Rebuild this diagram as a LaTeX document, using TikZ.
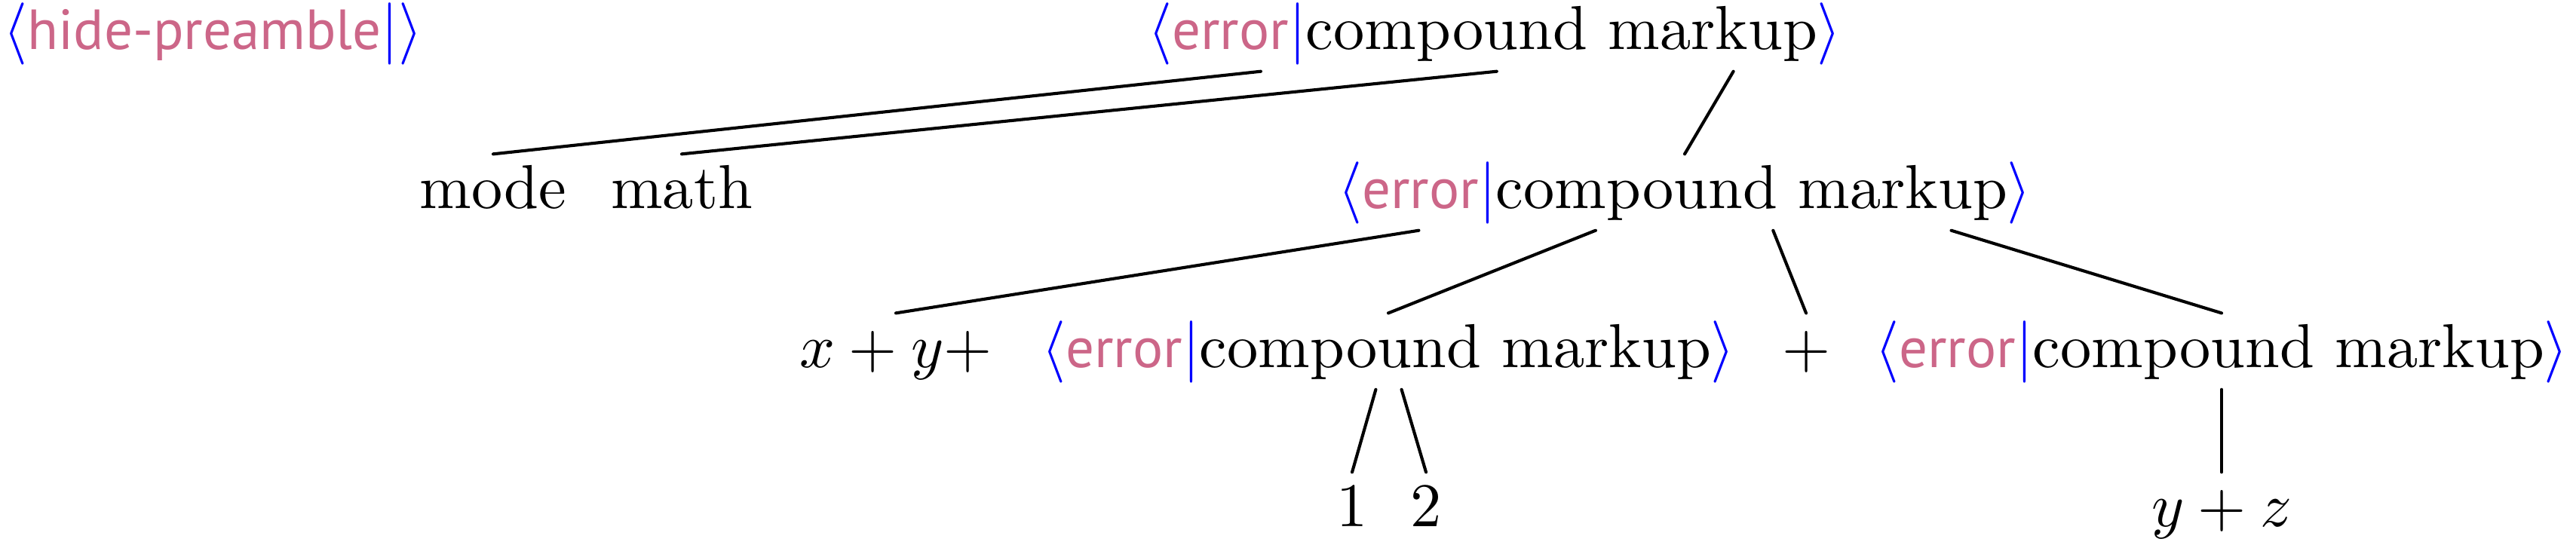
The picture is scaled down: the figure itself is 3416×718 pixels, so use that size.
\documentclass[tikz,border=0pt]{standalone}
\usepackage{fontspec}
\usetikzlibrary{calc}
\newfontfamily\tmsans{PT Sans}
\definecolor{tmpink}{RGB}{204,102,136}
\newcommand\tmdl[1]{{\color{blue}$#1$}}
\newcommand\tmtag[1]{{\color{tmpink}\tmsans\fontsize{9.1}{10}\selectfont #1}}
\newcommand\tmerr{\tmdl{\langle}\tmtag{error}\tmdl{|}compound markup\tmdl{\rangle}}
\begin{document}
\begin{tikzpicture}[x=0.12136pt,y=0.12136pt,
  tn/.style={inner sep=0pt,text height=8.5pt,text depth=3.4pt,anchor=base},
  tntop/.style={tn,text height=7.5pt},
  edge/.style={line width=0.5pt,line cap=round}]
\useasboundingbox (0,0) rectangle (3416,-718);
\node[tntop,anchor=base west] (hp) at (3,-65) {\tmdl{\langle}\tmtag{hide-preamble}\tmdl{|}\tmdl{\rangle}};
\node[tntop] (e1) at (1982,-65) {\tmerr};
\node[tn] (mode) at (654,-276) {mode};
\node[tn] (math) at (904,-276) {math};
\node[tn] (e2) at (2234,-276) {\tmerr};
\node[tn] (xy) at (1188,-487) {$x+y+$};
\node[tn] (e3) at (1841,-487) {\tmerr};
\node[tn] (plus) at (2395,-487) {$+$};
\node[tn] (e4) at (2946,-487) {\tmerr};
\node[tn] (one) at (1793,-698) {$1$};
\node[tn] (two) at (1891,-698) {$2$};
\node[tn] (yz) at (2946,-698) {$y+z$};
\draw[edge] ($(e1.south west)!0.164!(e1.south east)$) -- (mode.north);
\draw[edge] ($(e1.south west)!0.503!(e1.south east)$) -- (math.north);
\draw[edge] ($(e1.south west)!0.843!(e1.south east)$) -- (e2.north);
\draw[edge] ($(e2.south west)!0.118!(e2.south east)$) -- (xy.north);
\draw[edge] ($(e2.south west)!0.372!(e2.south east)$) -- (e3.north);
\draw[edge] ($(e2.south west)!0.627!(e2.south east)$) -- (plus.north);
\draw[edge] ($(e2.south west)!0.883!(e2.south east)$) -- (e4.north);
\draw[edge] ($(e3.south west)!0.482!(e3.south east)$) -- (one.north);
\draw[edge] ($(e3.south west)!0.519!(e3.south east)$) -- (two.north);
\draw[edge] (e4.south) -- (yz.north);
\end{tikzpicture}
\end{document}
